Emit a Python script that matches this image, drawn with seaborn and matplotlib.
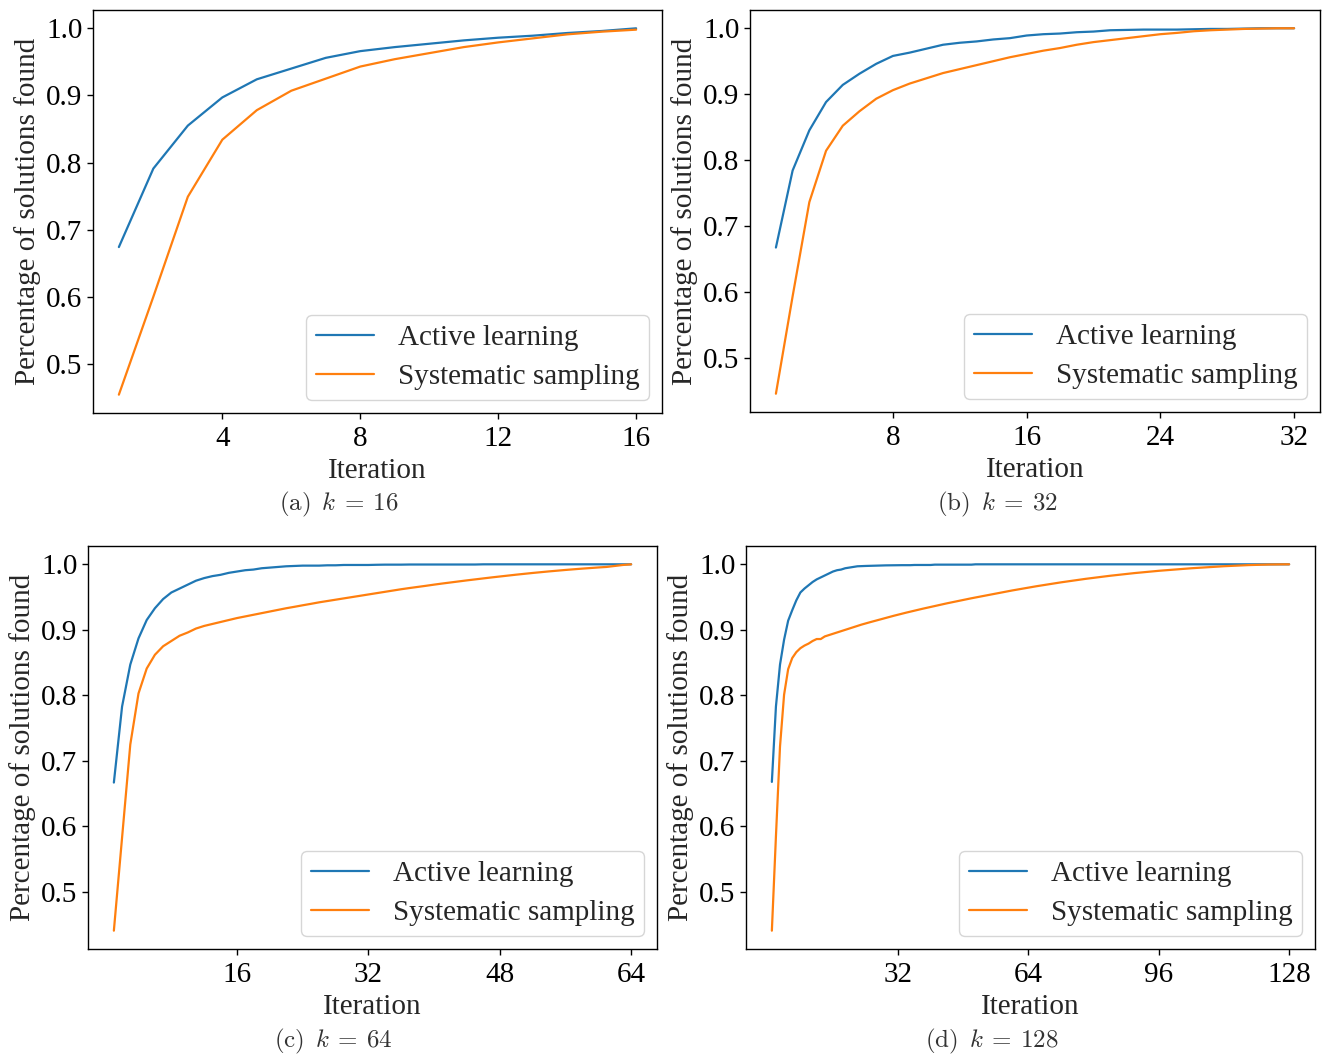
import matplotlib
matplotlib.use("Agg")
import matplotlib.pyplot as plt
import seaborn as sns
import pandas as pd

# ---------------- data ----------------
methods = ["Active learning", "Systematic sampling"]
k_values = [16, 32, 64, 128]
panel_letters = ["a", "b", "c", "d"]
xticks_16 = [4, 8, 12, 16]
xticks_32 = [8, 16, 24, 32]
xticks_64 = [16, 32, 48, 64]
xticks_128 = [32, 64, 96, 128]

al16 = [0.674, 0.791, 0.855, 0.897, 0.924, 0.940, 0.956, 0.966,
        0.972, 0.977, 0.982, 0.986, 0.989, 0.993, 0.996, 1.000]
ss16 = [0.454, 0.600, 0.749, 0.834, 0.878, 0.907, 0.925, 0.943,
        0.954, 0.963, 0.972, 0.979, 0.985, 0.991, 0.995, 0.998]

al32 = [0.667, 0.784, 0.845, 0.888, 0.914, 0.931, 0.946, 0.958,
        0.963, 0.969, 0.975, 0.978, 0.980, 0.983, 0.985, 0.989,
        0.991, 0.992, 0.994, 0.995, 0.997, 0.9975, 0.998, 0.998,
        0.998, 0.9985, 0.999, 0.999, 0.9995, 1.0, 1.0, 1.0]
ss32 = [0.445, 0.593, 0.736, 0.814, 0.852, 0.874, 0.893, 0.906,
        0.916, 0.924, 0.932, 0.938, 0.944, 0.950, 0.956, 0.961,
        0.966, 0.970, 0.975, 0.979, 0.982, 0.985, 0.988, 0.991,
        0.993, 0.9955, 0.997, 0.998, 0.999, 0.9995, 1.0, 1.0]

al64 = [0.667, 0.783, 0.847, 0.887, 0.915, 0.933, 0.947, 0.957,
        0.963, 0.969, 0.975, 0.979, 0.982, 0.984, 0.987, 0.989,
        0.991, 0.992, 0.994, 0.995, 0.996, 0.997, 0.9975, 0.998,
        0.998, 0.998, 0.9985, 0.9985, 0.999, 0.999, 0.999, 0.999,
        0.9993, 0.9995, 0.9995, 0.9995, 0.9997, 0.9997, 0.9997, 0.9997,
        0.9997, 0.9997, 0.9997, 0.9997, 0.9997, 1.0, 1.0, 1.0,
        1.0, 1.0, 1.0, 1.0, 1.0, 1.0, 1.0, 1.0,
        1.0, 1.0, 1.0, 1.0, 1.0, 1.0, 1.0, 1.0]
ss64 = [0.441, 0.583, 0.725, 0.803, 0.841, 0.862, 0.875, 0.883,
        0.891, 0.896, 0.902, 0.906, 0.909, 0.912, 0.915, 0.918,
        0.9205, 0.923, 0.9255, 0.928, 0.9305, 0.933, 0.9352, 0.9375,
        0.9397, 0.942, 0.944, 0.946, 0.948, 0.950, 0.952, 0.954,
        0.956, 0.958, 0.960, 0.962, 0.9638, 0.9655, 0.9672, 0.969,
        0.9707, 0.9723, 0.9739, 0.9755, 0.977, 0.9785, 0.98, 0.9814,
        0.9828, 0.9842, 0.9855, 0.9868, 0.988, 0.9892, 0.9903, 0.9914,
        0.9924, 0.9934, 0.9943, 0.9952, 0.996, 0.9975, 0.999, 1.0]

al128 = [0.668, 0.783, 0.847, 0.885, 0.914, 0.930, 0.945, 0.957,
         0.963, 0.968, 0.973, 0.977, 0.980, 0.983, 0.986, 0.989,
         0.991, 0.992, 0.994, 0.995, 0.996, 0.997, 0.9973, 0.9975,
         0.9977, 0.998, 0.998, 0.9982, 0.9984, 0.9985, 0.9987, 0.9987,
         0.9987, 0.9987, 0.9987, 0.999, 0.999, 0.999, 0.999, 0.999,
         0.9995, 0.9995, 0.9995, 0.9995, 0.9995, 0.9995, 0.9995, 0.9995,
         0.9995, 0.9995, 1.0, 1.0, 1.0, 1.0, 1.0, 1.0,
         1.0, 1.0, 1.0, 1.0, 1.0, 1.0, 1.0, 1.0,
         1.0, 1.0, 1.0, 1.0, 1.0, 1.0, 1.0, 1.0,
         1.0, 1.0, 1.0, 1.0, 1.0, 1.0, 1.0, 1.0,
         1.0, 1.0, 1.0, 1.0, 1.0, 1.0, 1.0, 1.0,
         1.0, 1.0, 1.0, 1.0, 1.0, 1.0, 1.0, 1.0,
         1.0, 1.0, 1.0, 1.0, 1.0, 1.0, 1.0, 1.0,
         1.0, 1.0, 1.0, 1.0, 1.0, 1.0, 1.0, 1.0,
         1.0, 1.0, 1.0, 1.0, 1.0, 1.0, 1.0, 1.0,
         1.0, 1.0, 1.0, 1.0, 1.0, 1.0, 1.0, 1.0]
ss128 = [0.441, 0.585, 0.722, 0.801, 0.840, 0.857, 0.866, 0.872,
         0.876, 0.879, 0.883, 0.886, 0.886, 0.890, 0.892, 0.894,
         0.896, 0.898, 0.900, 0.902, 0.904, 0.906, 0.908, 0.9098,
         0.9115, 0.9132, 0.9149, 0.9166, 0.9183, 0.92, 0.9216, 0.9232,
         0.9248, 0.9263, 0.9278, 0.9293, 0.9308, 0.9322, 0.9336, 0.935,
         0.9364, 0.9378, 0.9392, 0.9405, 0.9418, 0.9431, 0.9444, 0.9457,
         0.947, 0.9482, 0.9494, 0.9506, 0.9518, 0.953, 0.9542, 0.9554,
         0.9566, 0.9578, 0.959, 0.9601, 0.9612, 0.9623, 0.9634, 0.9645,
         0.9656, 0.9666, 0.9676, 0.9686, 0.9696, 0.9706, 0.9716, 0.9725,
         0.9734, 0.9743, 0.9752, 0.9761, 0.977, 0.9778, 0.9786, 0.9794,
         0.9802, 0.981, 0.9818, 0.9825, 0.9832, 0.9839, 0.9846, 0.9853,
         0.986, 0.9866, 0.9872, 0.9878, 0.9884, 0.989, 0.9896, 0.9901,
         0.9906, 0.9911, 0.9916, 0.9921, 0.9926, 0.9931, 0.9936, 0.994,
         0.9944, 0.9948, 0.9952, 0.9956, 0.996, 0.9964, 0.9968, 0.9971,
         0.9974, 0.9977, 0.998, 0.9983, 0.9986, 0.9988, 0.999, 0.9992,
         0.9994, 0.9996, 0.9997, 0.9998, 0.9999, 1.0, 1.0, 1.0]

series = [(al16, ss16), (al32, ss32), (al64, ss64), (al128, ss128)]
xticks_all = [xticks_16, xticks_32, xticks_64, xticks_128]

# ---------------- style ----------------
sns.set_theme(style="ticks")
FONT = ["Liberation Serif", "DejaVu Serif"]
plt.rcParams["font.family"] = FONT
plt.rcParams["mathtext.fontset"] = "cm"
plt.rcParams["axes.edgecolor"] = "black"
plt.rcParams["axes.linewidth"] = 1.0
plt.rcParams["xtick.color"] = "black"
plt.rcParams["ytick.color"] = "black"
plt.rcParams["xtick.major.size"] = 4
plt.rcParams["ytick.major.size"] = 4
plt.rcParams["xtick.major.width"] = 1.0
plt.rcParams["ytick.major.width"] = 1.0
plt.rcParams["xtick.major.pad"] = 5

palette = {"Active learning": "#1f77b4", "Systematic sampling": "#ff7f0e"}
FS = 21

fig = plt.figure(figsize=(13.32, 10.59), dpi=100)

# axes rectangles in figure fraction (left, bottom, width, height)
rects = [
    (93 / 1332, 1 - 413 / 1059, 569 / 1332, 403 / 1059),
    (750 / 1332, 1 - 412 / 1059, 570 / 1332, 402 / 1059),
    (88 / 1332, 1 - 949 / 1059, 569 / 1332, 403 / 1059),
    (746 / 1332, 1 - 949 / 1059, 569 / 1332, 403 / 1059),
]
caption_pos = [(339 / 1332, 1 - 504 / 1059), (997 / 1332, 1 - 504 / 1059),
               (333 / 1332, 1 - 1041 / 1059), (992 / 1332, 1 - 1041 / 1059)]

for i, k in enumerate(k_values):
    al, ss = series[i]
    iters = list(range(1, k + 1))
    df = pd.DataFrame({
        "Iteration": iters + iters,
        "value": al + ss,
        "method": [methods[0]] * k + [methods[1]] * k,
    })
    ax = fig.add_axes(rects[i])
    sns.lineplot(data=df, x="Iteration", y="value", hue="method",
                 palette=palette, linewidth=1.6, ax=ax, legend=True)
    ax.set_xticks(xticks_all[i])
    ax.set_yticks([0.5, 0.6, 0.7, 0.8, 0.9, 1.0])
    ax.tick_params(labelsize=FS)
    ax.set_xlabel("Iteration", fontsize=FS, labelpad=5)
    ax.set_ylabel("Percentage of solutions found", fontsize=FS, labelpad=4)
    for sp in ax.spines.values():
        sp.set_visible(True)
        sp.set_color("black")
    handles, labels = ax.get_legend_handles_labels()
    ax.legend(handles, labels, loc="lower right", fontsize=FS,
              frameon=True, fancybox=True, framealpha=0.8,
              edgecolor="#cccccc", handlelength=2.0, labelspacing=0.45,
              borderpad=0.33, borderaxespad=0.45)
    fig.text(caption_pos[i][0], caption_pos[i][1],
             r"$\mathrm{(%s)}\ \, k\:=\:%d$" % (panel_letters[i], k),
             fontsize=18, ha="center", va="center", color="#333333")

fig.savefig("out.png", dpi=100)
